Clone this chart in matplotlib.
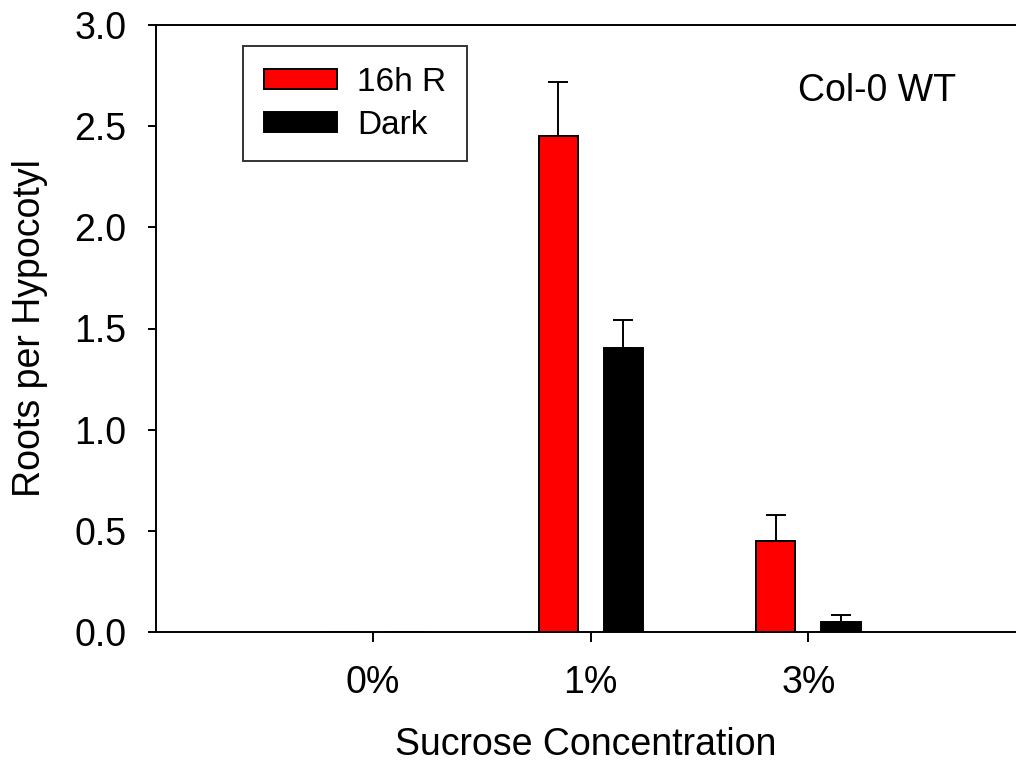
import matplotlib
matplotlib.use("Agg")
import matplotlib.pyplot as plt
import numpy as np

categories = ["0%", "1%", "3%"]
series_names = ["16h R", "Dark"]
light_vals = [0.0, 2.45, 0.45]
light_err = [0.0, 0.27, 0.127]
dark_vals = [0.0, 1.405, 0.05]
dark_err = [0.0, 0.137, 0.033]
yticks = [0.0, 0.5, 1.0, 1.5, 2.0, 2.5, 3.0]

plt.rcParams['font.family'] = ['Liberation Sans', 'DejaVu Sans']

fig = plt.figure(figsize=(10.16, 7.65), dpi=100)
L, R, B, T = 155.5, 1026.0, 632.0, 25.0
W, H = 1016.0, 765.0
ax = fig.add_axes([L / W, 1 - B / H, (R - L) / W, (B - T) / H])

x = np.arange(len(categories))
bw = 0.18
off = 0.15
lw = 1.4

ax.bar(x - off, light_vals, bw, color='#ff0000', edgecolor='black', linewidth=lw,
       label=series_names[0], zorder=3)
ax.bar(x + off, dark_vals, bw, color='black', edgecolor='black', linewidth=lw,
       label=series_names[1], zorder=3)

for xs, vals, errs in [(x - off, light_vals, light_err), (x + off, dark_vals, dark_err)]:
    idx = [i for i, v in enumerate(vals) if v > 0]
    ax.errorbar([xs[i] for i in idx], [vals[i] for i in idx],
                yerr=[[0] * len(idx), [errs[i] for i in idx]],
                fmt='none', ecolor='black', elinewidth=lw, capsize=7, capthick=lw, zorder=2)

ax.set_xlim(-1, 3)
ax.set_ylim(0, 3.0)
ax.set_yticks(yticks)
ax.set_yticklabels([f"{v:.1f}" for v in yticks])
ax.set_xticks(x)
ax.set_xticklabels(categories)

for s in ax.spines.values():
    s.set_linewidth(lw)
ax.tick_params(axis='y', direction='out', length=6, width=lw, labelsize=27, pad=15)
ax.tick_params(axis='x', direction='out', length=7, width=lw, labelsize=27, pad=17)

leg = ax.legend(loc='upper left', bbox_to_anchor=(0.1005, 0.965), borderaxespad=0,
                fontsize=24, frameon=True, fancybox=False, edgecolor='black',
                handlelength=2.2, handleheight=0.55, labelspacing=0.35,
                handletextpad=0.6, borderpad=0.62)
leg.get_frame().set_linewidth(lw)

ax.text(0.738, 0.891, "Col-0 WT", transform=ax.transAxes, fontsize=27,
        ha='left', va='center')

fig.text(585.5 / W, 1 - 745 / H, "Sucrose Concentration", fontsize=27,
         ha='center', va='center')
fig.text(30 / W, 1 - 328 / H, "Roots per Hypocotyl", fontsize=27,
         rotation=90, ha='center', va='center')

fig.savefig("out.png", dpi=100)
